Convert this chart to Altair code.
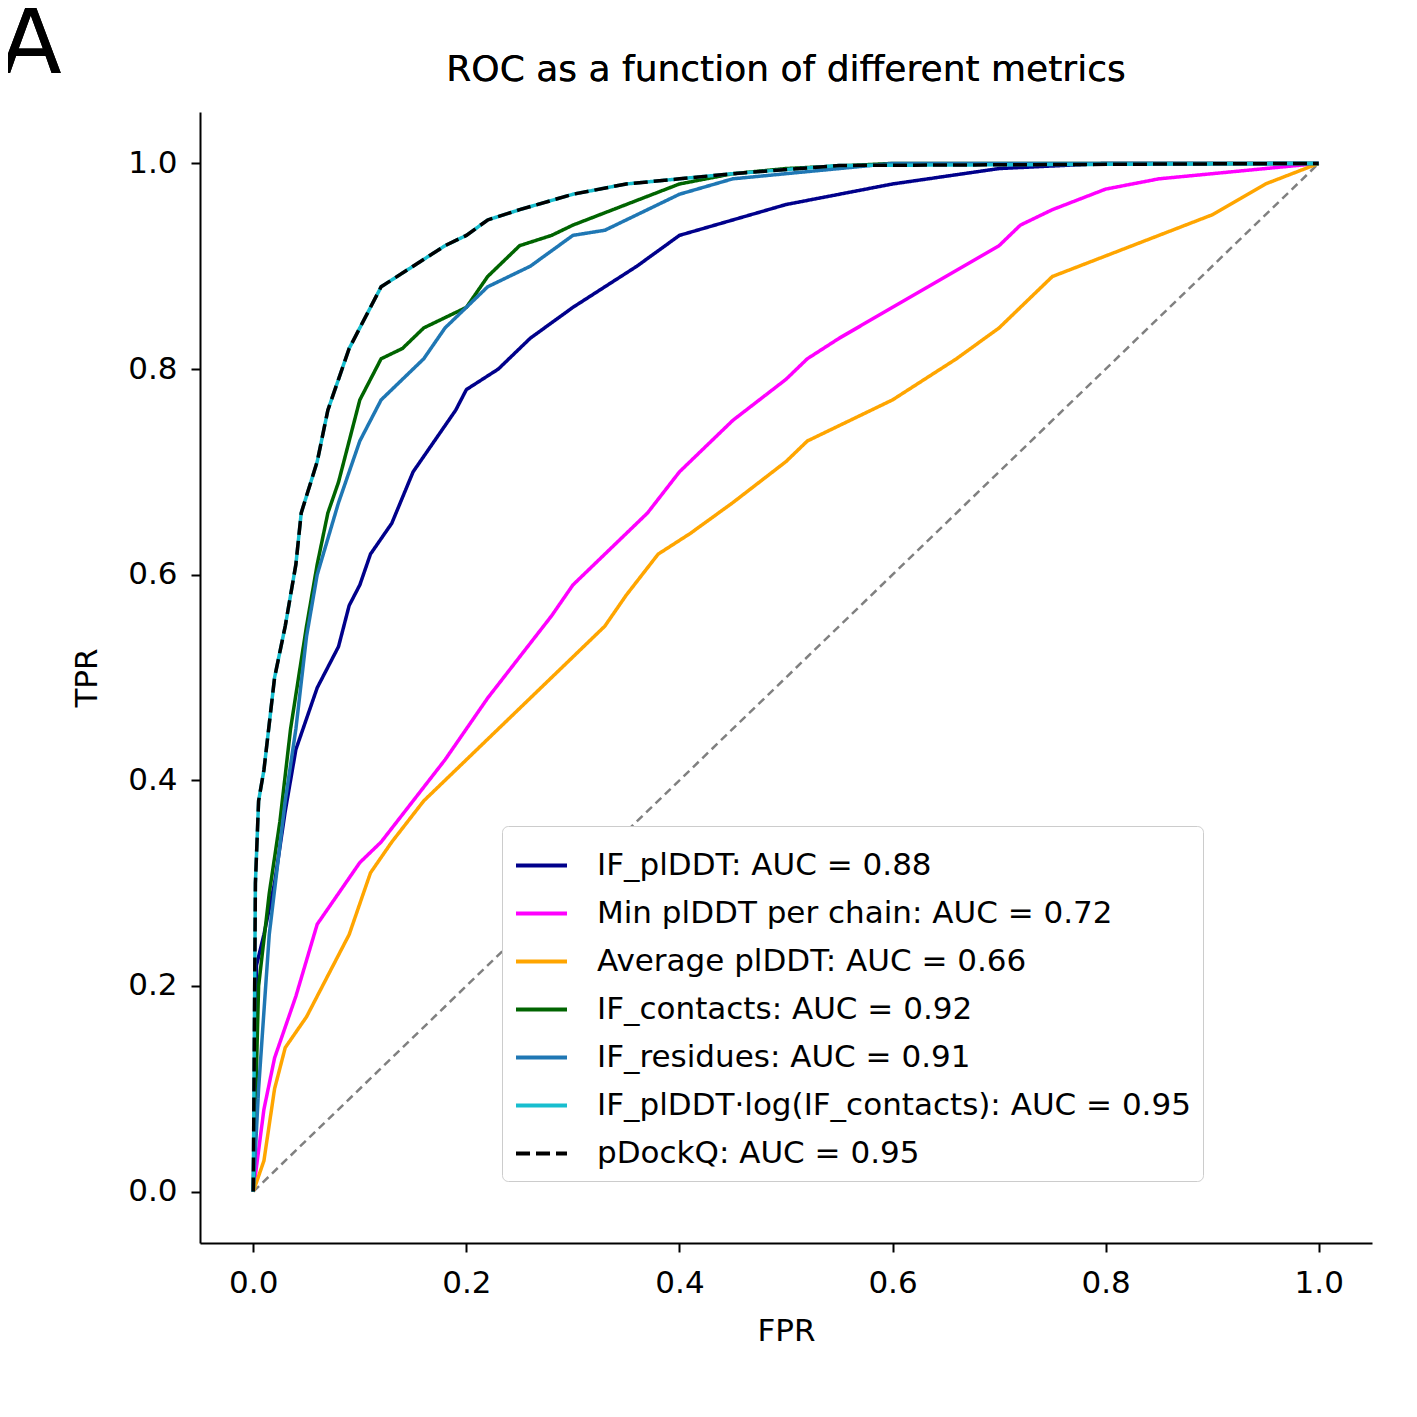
import altair as alt
import pandas as pd

names = ['IF_plDDT: AUC = 0.88', 'Min plDDT per chain: AUC = 0.72', 'Average plDDT: AUC = 0.66',
         'IF_contacts: AUC = 0.92', 'IF_residues: AUC = 0.91',
         'IF_plDDT·log(IF_contacts): AUC = 0.95', 'pDockQ: AUC = 0.95']
colors = ['#00008b', '#ff00ff', '#ffa500', '#006400', '#1f77b4', '#17becf', '#000000']

if_plddt_fpr = [0, 0.003, 0.01, 0.02, 0.03, 0.04, 0.05, 0.06, 0.08, 0.09, 0.1, 0.11, 0.13, 0.15, 0.17, 0.19, 0.2,
                0.23, 0.26, 0.3, 0.33, 0.36, 0.4, 0.45, 0.5, 0.55, 0.6, 0.7, 0.8, 1]
if_plddt_tpr = [0, 0.22, 0.25, 0.3, 0.37, 0.43, 0.46, 0.49, 0.53, 0.57, 0.59, 0.62, 0.65, 0.70, 0.73, 0.76, 0.78,
                0.80, 0.83, 0.86, 0.88, 0.90, 0.93, 0.945, 0.96, 0.97, 0.98, 0.995, 1, 1]
min_fpr = [0, 0.01, 0.02, 0.04, 0.06, 0.08, 0.1, 0.12, 0.15, 0.18, 0.2, 0.22, 0.25, 0.28, 0.3, 0.34, 0.37, 0.4,
           0.45, 0.5, 0.52, 0.55, 0.6, 0.65, 0.7, 0.72, 0.75, 0.8, 0.85, 0.9, 1]
min_tpr = [0, 0.08, 0.13, 0.19, 0.26, 0.29, 0.32, 0.34, 0.38, 0.42, 0.45, 0.48, 0.52, 0.56, 0.59, 0.63, 0.66, 0.70,
           0.75, 0.79, 0.81, 0.83, 0.86, 0.89, 0.92, 0.94, 0.955, 0.975, 0.985, 0.99, 1]
avg_fpr = [0, 0.01, 0.02, 0.03, 0.05, 0.07, 0.09, 0.11, 0.13, 0.16, 0.2, 0.23, 0.27, 0.3, 0.33, 0.35, 0.38, 0.41,
           0.45, 0.5, 0.52, 0.56, 0.6, 0.66, 0.7, 0.72, 0.75, 0.8, 0.85, 0.9, 0.95, 1]
avg_tpr = [0, 0.03, 0.1, 0.14, 0.17, 0.21, 0.25, 0.31, 0.34, 0.38, 0.42, 0.45, 0.49, 0.52, 0.55, 0.58, 0.62, 0.64,
           0.67, 0.71, 0.73, 0.75, 0.77, 0.81, 0.84, 0.86, 0.89, 0.91, 0.93, 0.95, 0.98, 1]
cont_fpr = [0, 0.005, 0.015, 0.025, 0.035, 0.05, 0.06, 0.07, 0.08, 0.09, 0.1, 0.12, 0.14, 0.16, 0.18, 0.2, 0.22,
            0.25, 0.28, 0.3, 0.35, 0.4, 0.45, 0.5, 0.6, 1]
cont_tpr = [0, 0.2, 0.29, 0.36, 0.45, 0.55, 0.61, 0.66, 0.69, 0.73, 0.77, 0.81, 0.82, 0.84, 0.85, 0.86, 0.89,
            0.92, 0.93, 0.94, 0.96, 0.98, 0.99, 0.995, 1, 1]
res_fpr = [0, 0.005, 0.015, 0.03, 0.04, 0.05, 0.06, 0.08, 0.1, 0.12, 0.14, 0.16, 0.18, 0.2, 0.22, 0.24, 0.26,
           0.3, 0.33, 0.36, 0.4, 0.45, 0.5, 0.6, 1]
res_tpr = [0, 0.1, 0.25, 0.38, 0.45, 0.54, 0.6, 0.67, 0.73, 0.77, 0.79, 0.81, 0.84, 0.86, 0.88, 0.89, 0.90,
           0.93, 0.935, 0.95, 0.97, 0.985, 0.99, 1, 1]
best_fpr = [0, 0.002, 0.005, 0.01, 0.02, 0.03, 0.04, 0.045, 0.06, 0.07, 0.08, 0.09, 0.1, 0.12, 0.15, 0.18, 0.2,
            0.22, 0.25, 0.3, 0.35, 0.4, 0.45, 0.55, 1]
best_tpr = [0, 0.3, 0.38, 0.41, 0.5, 0.55, 0.61, 0.66, 0.71, 0.76, 0.79, 0.82, 0.84, 0.88, 0.9, 0.92, 0.93,
            0.945, 0.955, 0.97, 0.98, 0.985, 0.99, 0.998, 1]

series = [(if_plddt_fpr, if_plddt_tpr), (min_fpr, min_tpr), (avg_fpr, avg_tpr), (cont_fpr, cont_tpr),
          (res_fpr, res_tpr), (best_fpr, best_tpr), (best_fpr, best_tpr)]

rows = []
for i, (name, (fx, ty)) in enumerate(zip(names, series)):
    for j, (a, b) in enumerate(zip(fx, ty)):
        rows.append({'name': name, 'order': i, 'idx': j, 'fpr': a, 'tpr': b})
df = pd.DataFrame(rows)

diag = pd.DataFrame({'fpr': [0, 1], 'tpr': [0, 1]})

x_scale = alt.Scale(domain=[-0.05, 1.05], nice=False)
y_scale = alt.Scale(domain=[-0.05, 1.05], nice=False)
x_axis = alt.Axis(title='FPR', values=[0, 0.2, 0.4, 0.6, 0.8, 1.0], format='.1f')
y_axis = alt.Axis(title='TPR', values=[0, 0.2, 0.4, 0.6, 0.8, 1.0], format='.1f')

diag_line = alt.Chart(diag).mark_line(color='gray', strokeDash=[8, 5], strokeWidth=2.5).encode(
    alt.X('fpr:Q', scale=x_scale, axis=x_axis),
    alt.Y('tpr:Q', scale=y_scale, axis=y_axis))

curves = alt.Chart(df).mark_line(strokeWidth=3.5).encode(
    alt.X('fpr:Q', scale=x_scale, axis=x_axis),
    alt.Y('tpr:Q', scale=y_scale, axis=y_axis),
    alt.Color('name:N', scale=alt.Scale(domain=names, range=colors),
              legend=alt.Legend(title=None, orient='none', legendX=302, legendY=714,
                                symbolType='stroke', symbolSize=2600, symbolStrokeWidth=4,
                                labelFontSize=31, labelLimit=900, rowPadding=5, labelOffset=28,
                                padding=12, fillColor='white', strokeColor='#cccccc',
                                cornerRadius=6)),
    alt.StrokeDash('name:N', scale=alt.Scale(domain=names,
                                             range=[[1, 0]] * 6 + [[14, 6]]), legend=None),
    detail='name:N',
    order='idx:Q')

label_a = alt.Chart(diag).mark_text(text='A', fontSize=90, align='left', baseline='top',
                                    font='DejaVu Sans').encode(
    x=alt.value(-200), y=alt.value(-110))

title_text = alt.Chart(diag).mark_text(text='ROC as a function of different metrics', fontSize=36,
                                       align='center', baseline='middle',
                                       font='DejaVu Sans').encode(
    x=alt.value(586), y=alt.value(-42))

chart = (diag_line + curves + label_a + title_text).properties(
    width=1172, height=1131,
    autosize='none',
    padding={'left': 192, 'top': 104, 'right': 37, 'bottom': 166},
).configure(font='DejaVu Sans').configure_view(stroke=None).configure_axis(
    labelFontSize=31, titleFontSize=31, titleFontWeight='normal', grid=False,
    domainColor='black', domainWidth=2, tickColor='black', tickWidth=2, tickSize=9,
    labelColor='black', titleColor='black'
).configure_axisX(titlePadding=18, labelPadding=16).configure_axisY(titlePadding=24, labelPadding=14)

chart.save("out.html", embed_options={"renderer": "svg", "actions": False})
